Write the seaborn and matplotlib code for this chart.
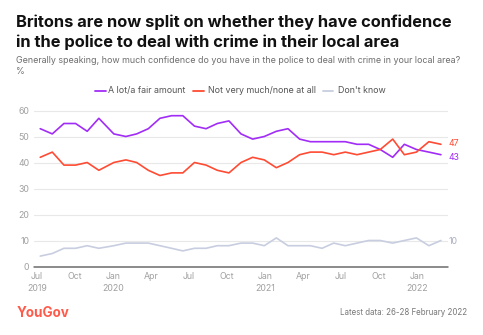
import matplotlib
matplotlib.use("Agg")
import matplotlib.pyplot as plt
import pandas as pd
import seaborn as sns

# Survey fieldwork dates (roughly every four weeks)
dates = [
    "2019-07-09", "2019-08-07", "2019-09-04", "2019-10-02", "2019-10-30", "2019-11-27",
    "2020-01-02", "2020-01-31", "2020-02-26", "2020-03-25", "2020-04-22", "2020-05-20",
    "2020-06-16", "2020-07-14", "2020-08-11", "2020-09-07", "2020-10-05", "2020-11-03",
    "2020-12-01", "2020-12-29", "2021-01-27", "2021-02-24", "2021-03-24", "2021-04-19",
    "2021-05-17", "2021-06-14", "2021-07-12", "2021-08-09", "2021-09-06", "2021-10-04",
    "2021-11-03", "2021-12-01", "2021-12-30", "2022-01-29", "2022-02-27",
]
lot_fair = [53, 51, 55, 55, 52, 57, 51, 50, 51, 53, 57, 58, 58, 54, 53, 55, 56, 51,
            49, 50, 52, 53, 49, 48, 48, 48, 48, 47, 47, 45, 42, 47, 45, 44, 43]
not_much = [42, 44, 39, 39, 40, 37, 40, 41, 40, 37, 35, 36, 36, 40, 39, 37, 36, 40,
            42, 41, 38, 40, 43, 44, 44, 43, 44, 43, 44, 45, 49, 43, 44, 48, 47]
dont_know = [4, 5, 7, 7, 8, 7, 8, 9, 9, 9, 8, 7, 6, 7, 7, 8, 8, 9,
             9, 8, 11, 8, 8, 8, 7, 9, 8, 9, 10, 10, 9, 10, 11, 8, 10]

series_names = ["A lot/a fair amount", "Not very much/none at all", "Don't know"]
colors = ["#a12cf7", "#ff4b33", "#c8cee0"]
label_colors = ["#a12cf7", "#ff4b33", "#a9aec0"]

tick_dates = ["2019-07-01", "2019-10-01", "2020-01-01", "2020-04-01", "2020-07-01",
              "2020-10-01", "2021-01-01", "2021-04-01", "2021-07-01", "2021-10-01",
              "2022-01-01"]
tick_labels = ["Jul\n2019", "Oct", "Jan\n2020", "Apr", "Jul", "Oct", "Jan\n2021",
               "Apr", "Jul", "Oct", "Jan\n2022"]
y_ticks = [0, 10, 20, 30, 40, 50, 60]

title_lines = ["Britons are now split on whether they have confidence",
               "in the police to deal with crime in their local area"]
subtitle = ("Generally speaking, how much confidence do you have in the police "
            "to deal with crime in your local area?")
footnote = "Latest data: 26-28 February 2022"

df = pd.DataFrame({
    "date": pd.to_datetime(dates * 3),
    "value": lot_fair + not_much + dont_know,
    "series": [series_names[0]] * len(dates) + [series_names[1]] * len(dates)
              + [series_names[2]] * len(dates),
})

sns.set_theme(style="white")
plt.rcParams["font.family"] = ["Inter", "DejaVu Sans"]

W, H = 483, 335
fig = plt.figure(figsize=(W / 100, H / 100), dpi=100)
renderer = fig.canvas.get_renderer()


def fx(x):
    return x / W


def fy(y):
    return 1 - y / H


def fit_width(txt, width_px):
    """Scale a text's font size so its rendered width is width_px."""
    for _ in range(3):
        w = txt.get_window_extent(renderer).width
        txt.set_fontsize(txt.get_fontsize() * width_px / w)
    return txt


def fitted_size(sample, width_px, **kw):
    t = fig.text(0, 0, sample, fontsize=10, **kw)
    fit_width(t, width_px)
    size = t.get_fontsize()
    t.remove()
    return size


# plot area in pixel terms: x 34..448, y=0 at 266.5, 2.6 px per point
y0_px, px_per = 266.5, 2.6
ymax = 62
ax = fig.add_axes([fx(34), fy(y0_px), fx(448) - fx(34), ymax * px_per / H])

palette = dict(zip(series_names, colors))
sns.lineplot(data=df, x="date", y="value", hue="series", palette=palette,
             hue_order=series_names, linewidth=1.2, ax=ax, legend=False)
for ln in ax.lines:
    ln.set_clip_on(False)

ax.set_xlim(pd.Timestamp("2019-06-24"), pd.Timestamp("2022-03-16"))
ax.set_ylim(0, ymax)

tick_size = fitted_size("2019", 20)
ax.set_yticks(y_ticks)
ax.set_yticklabels([str(v) for v in y_ticks])
ax.set_xticks(pd.to_datetime(tick_dates))
ax.set_xticklabels(tick_labels)
ax.tick_params(axis="both", length=0, labelsize=tick_size, labelcolor="#a0a0a0")
ax.tick_params(axis="x", pad=4)
ax.tick_params(axis="y", pad=3.5)
for lab in ax.get_xticklabels():
    lab.set_linespacing(1.35)
ax.set_xlabel("")
ax.set_ylabel("")

for v in y_ticks[1:]:
    ax.axhline(v, color="#e8e8e8", linewidth=0.8, zorder=0)
ax.axhline(0, color="#6b6b6b", linewidth=1.1, zorder=1, clip_on=False)
for s in ax.spines.values():
    s.set_visible(False)

# end-of-line value labels
end_size = fitted_size("47", 10.5)
last_vals = [lot_fair[-1], not_much[-1], dont_know[-1]]
last_date = pd.to_datetime(dates[-1])
offsets = [-0.9, 0.4, -0.3]
for val, col, off in zip(last_vals, label_colors, offsets):
    ax.annotate(str(val), xy=(last_date, val + off), xytext=(5.8, 0),
                textcoords="offset points", va="center", ha="left",
                fontsize=end_size, color=col, annotation_clip=False)

# title block
t1 = fig.text(fx(16), fy(26.7), title_lines[0], ha="left", va="baseline",
              fontsize=13, fontweight="bold", color="#111111")
fit_width(t1, 436)
fig.text(fx(16), fy(46.7), title_lines[1], ha="left", va="baseline",
         fontsize=t1.get_fontsize(), fontweight="bold", color="#111111")
st = fig.text(fx(16), fy(63), subtitle, ha="left", va="baseline", fontsize=7,
              color="#6e6e6e")
fit_width(st, 444)
fig.text(fx(16), fy(74), "%", ha="left", va="baseline",
         fontsize=st.get_fontsize(), color="#6e6e6e")

# legend: (segment start, segment end, text start)
legend_items = [(95, 106, 108.5), (193, 204, 208), (323, 333, 338)]
leg_size = fitted_size(series_names[1], 108)
for (s0, s1, tx), name, col in zip(legend_items, series_names, colors):
    fig.add_artist(plt.Line2D([fx(s0), fx(s1)], [fy(90.5), fy(90.5)],
                              color=col, linewidth=1.3, transform=fig.transFigure))
    fig.text(fx(tx), fy(90.5), name, ha="left", va="center", fontsize=leg_size,
             color="#555555")

# footer
yg = fig.text(fx(17), fy(313), "YouGov", ha="left", va="center", fontsize=12,
              fontweight="bold", color="#ff5a4a")
fit_width(yg, 53)
ft = fig.text(fx(467), fy(312.5), footnote, ha="right", va="center", fontsize=6.3,
              color="#777777")
fit_width(ft, 127)

fig.savefig("out.png", dpi=100, facecolor="white")
